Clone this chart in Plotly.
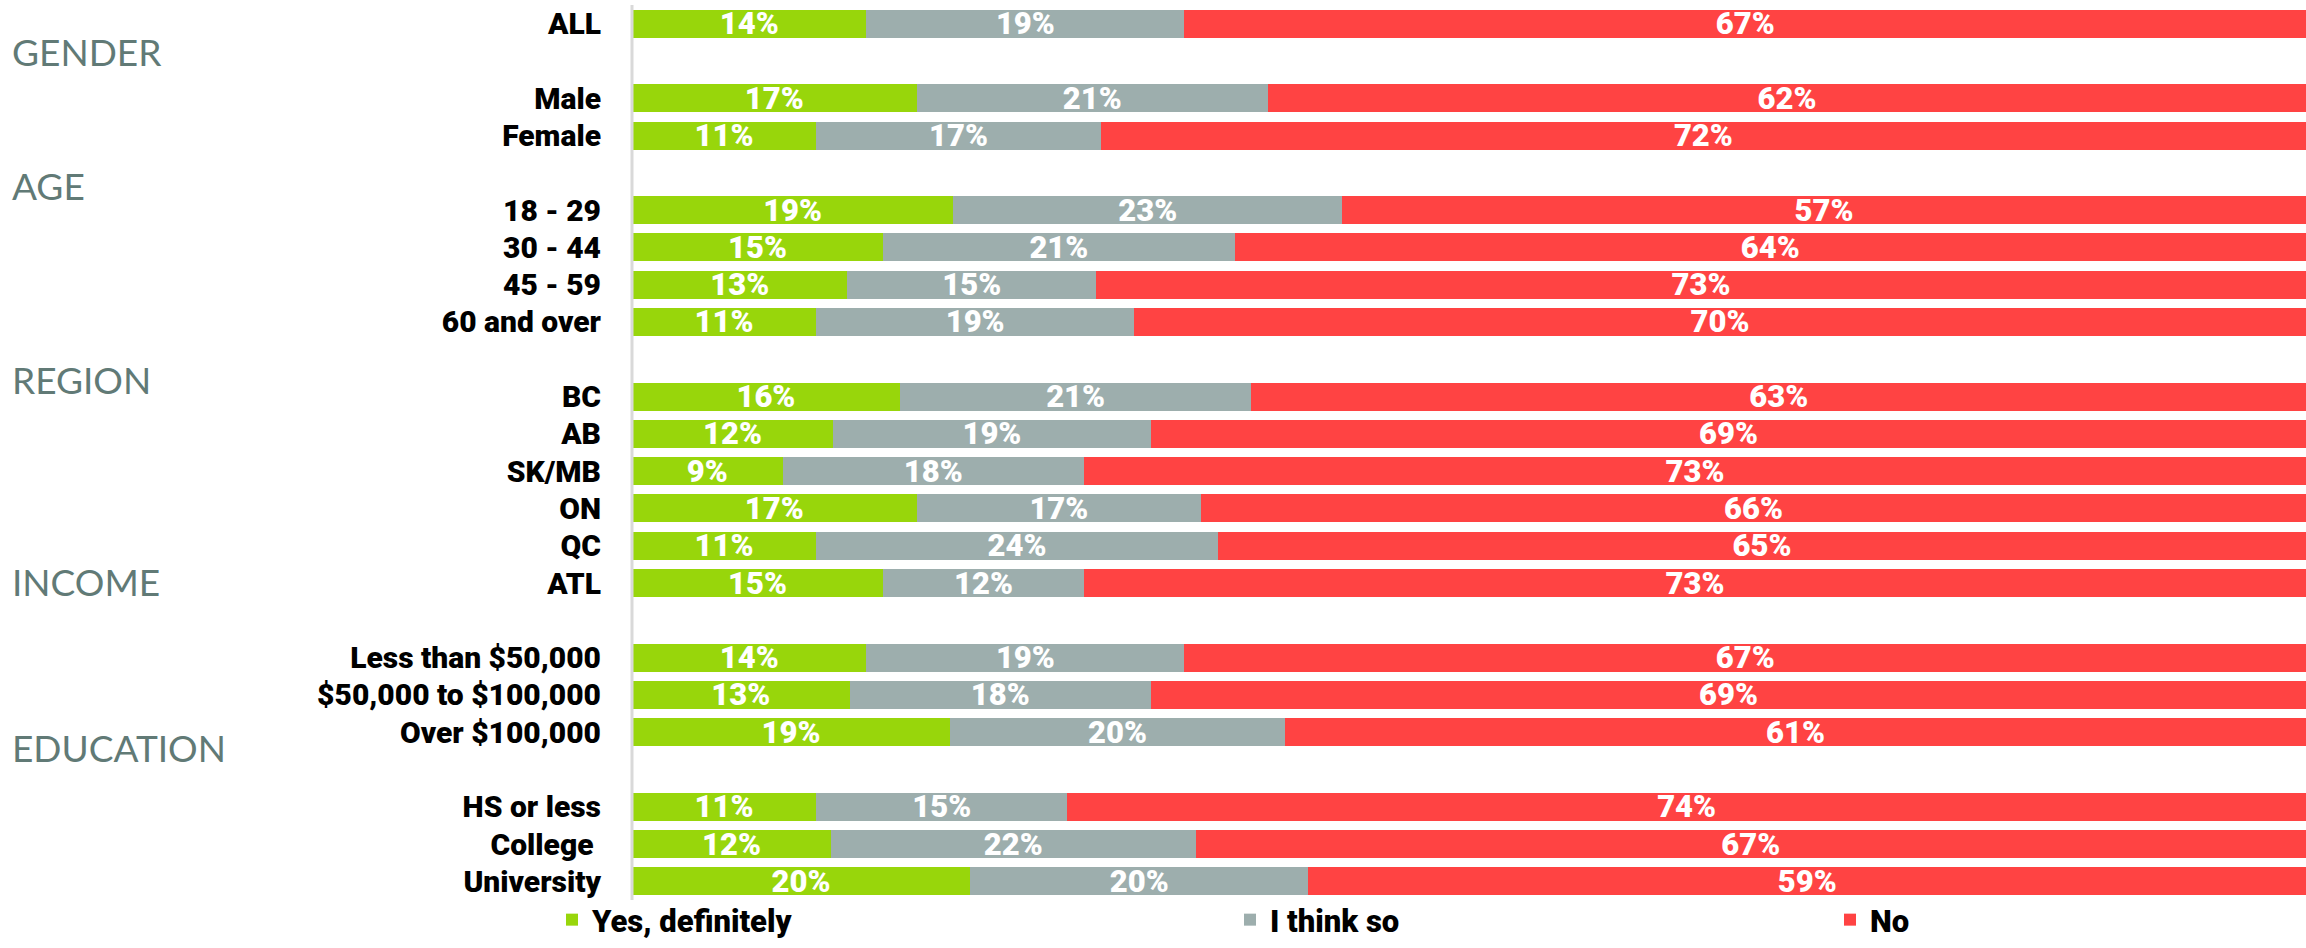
import plotly.graph_objects as go

# ---- data ----
rows = ["ALL", None, "Male", "Female", None, "18 - 29", "30 - 44", "45 - 59", "60 and over", None,
        "BC", "AB", "SK/MB", "ON", "QC", "ATL", None,
        "Less than $50,000", "$50,000 to $100,000", "Over $100,000", None,
        "HS or less", "College ", "University"]
yes_def = [14, None, 17, 11, None, 19, 15, 13, 11, None, 16, 12, 9, 17, 11, 15, None, 14, 13, 19, None, 11, 12, 20]
think_so = [19, None, 21, 17, None, 23, 21, 15, 19, None, 21, 19, 18, 17, 24, 12, None, 19, 18, 20, None, 15, 22, 20]
no_vals = [67, None, 62, 72, None, 57, 64, 73, 70, None, 63, 69, 73, 66, 65, 73, None, 67, 69, 61, None, 74, 67, 59]
series_names = ["Yes, definitely", "I think so", "No"]
groups = ["GENDER", "AGE", "REGION", "INCOME", "EDUCATION"]
group_pos = [0.75, 4.33, 9.53, 14.95, 19.42]  # layout positions (row units)

colors = ["#98D60B", "#9DAEAD", "#FF4343"]
W, H = 2306, 948
L, R, T, B = 632, 0, 5, 48

idx = [i for i, r in enumerate(rows) if r is not None]
labels = [rows[i] for i in idx]

BOLD = "Roboto, Lato, sans-serif"
fig = go.Figure()
for k, (name, vals) in enumerate(zip(series_names, [yes_def, think_so, no_vals])):
    v = [vals[i] for i in idx]
    fig.add_trace(go.Bar(
        y=idx, x=v, orientation="h", name=name,
        marker=dict(color=colors[k], line=dict(width=0)),
        text=[f"{x}%" for x in v], textposition="inside", insidetextanchor="middle",
        textfont=dict(family=BOLD, size=31, color="white", weight=900),
        constraintext="none", cliponaxis=True,
        legend=["legend", "legend2", "legend3"][k],
        hoverinfo="skip",
    ))

plot_w = W - L - R
plot_h = H - T - B
def px_x(p):
    return (p - L) / plot_w
def px_y(p):
    return (H - B - p) / plot_h

leg_font = dict(family=BOLD, size=31, color="black", weight=900)
leg_common = dict(orientation="h", yanchor="bottom", xanchor="left", font=leg_font,
                  bgcolor="rgba(0,0,0,0)", itemwidth=30, traceorder="normal")
annotations = []
for g, p in zip(groups, group_pos):
    annotations.append(dict(text=g, x=px_x(10), xref="paper", y=p, yref="y", xanchor="left",
                            yanchor="middle", showarrow=False,
                            font=dict(family="Lato, Open Sans, sans-serif", size=37, color="#617A76")))

fig.update_layout(
    width=W, height=H, margin=dict(l=L, r=R, t=T, b=B, autoexpand=False),
    barmode="stack", barnorm="percent", bargap=0.25,
    plot_bgcolor="white", paper_bgcolor="white",
    xaxis=dict(range=[0, 100], visible=False, fixedrange=True),
    yaxis=dict(range=[len(rows) - 0.5, -0.5], tickvals=idx, ticktext=labels,
               showgrid=False, zeroline=False, showline=False,
               ticks="outside", ticklen=24, tickcolor="rgba(0,0,0,0)",
               tickfont=dict(family=BOLD, size=30, color="black", weight=900)),
    legend=dict(x=px_x(552), y=px_y(947), **leg_common),
    legend2=dict(x=px_x(1230), y=px_y(947), **leg_common),
    legend3=dict(x=px_x(1830), y=px_y(947), **leg_common),
    annotations=annotations,
    shapes=[dict(type="line", xref="paper", yref="paper", x0=0, x1=0, y0=0, y1=1,
                 line=dict(color="#D9D9D9", width=3))],
    showlegend=True,
)

fig.write_html("out.html", config={"displayModeBar": False},
               post_script="document.body.style.margin='0';document.body.style.overflow='hidden';")
